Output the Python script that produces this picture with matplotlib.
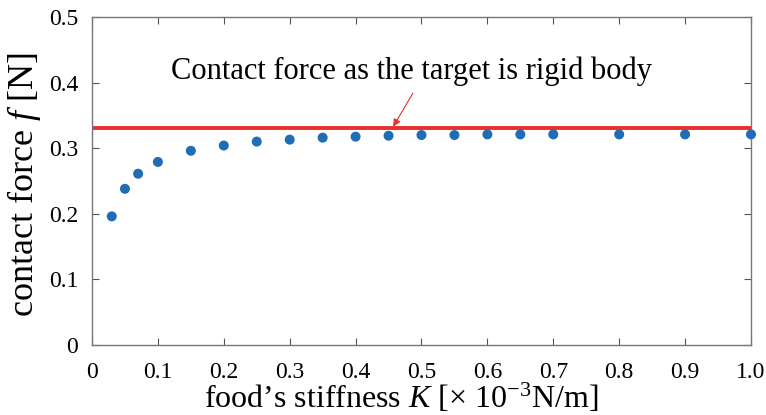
import matplotlib
matplotlib.use("Agg")
import matplotlib.pyplot as plt

stiffness = [0.03, 0.05, 0.07, 0.1, 0.15, 0.2, 0.25, 0.3, 0.35, 0.4, 0.45,
             0.5, 0.55, 0.6, 0.65, 0.7, 0.8, 0.9, 1.0]
force = [0.196, 0.238, 0.261, 0.279, 0.296, 0.304, 0.310, 0.313, 0.316, 0.3175,
         0.319, 0.320, 0.320, 0.321, 0.321, 0.321, 0.321, 0.321, 0.321]
rigid_force = 0.331
xticks = [0, 0.1, 0.2, 0.3, 0.4, 0.5, 0.6, 0.7, 0.8, 0.9, 1.0]
xticklabels = ["0", "0.1", "0.2", "0.3", "0.4", "0.5", "0.6", "0.7", "0.8", "0.9", "1.0"]
yticks = [0, 0.1, 0.2, 0.3, 0.4, 0.5]
yticklabels = ["0", "0.1", "0.2", "0.3", "0.4", "0.5"]
note = "Contact force as the target is rigid body"

plt.rcParams['font.family'] = ['Liberation Serif', 'DejaVu Serif']
plt.rcParams['mathtext.fontset'] = 'custom'
plt.rcParams['mathtext.rm'] = 'Liberation Serif'
plt.rcParams['mathtext.it'] = 'Liberation Serif:italic'

fig = plt.figure(figsize=(7.66, 4.15), dpi=100)
ax = fig.add_axes([0.1201, 0.169, 0.8603, 0.7900])

ax.axhline(rigid_force, color='#e8302a', lw=2.8, zorder=2)
ax.scatter(stiffness, force, s=52, color='#1f6db5', zorder=3, edgecolors='none', clip_on=False)

ax.set_xlim(0, 1.0)
ax.set_ylim(0, 0.5)
ax.set_xticks(xticks)
ax.set_xticklabels(xticklabels)
ax.set_yticks(yticks)
ax.set_yticklabels(yticklabels)
ax.tick_params(direction='in', length=5, width=0.8, colors='#555555', labelcolor='black', labelsize=17,
               top=True, right=True)
ax.tick_params(axis='x', pad=12)
ax.tick_params(axis='y', pad=10)
for s in ax.spines.values():
    s.set_color('#777777')
    s.set_linewidth(1.0)

ax.set_xlabel(r"food’s stiffness $K$ [$\times$ 10$^{-3}$N/m]", fontsize=23)
ax.set_ylabel(r"contact force $f$ [N]", fontsize=26)
ax.xaxis.set_label_coords(0.469, -0.112)
ax.yaxis.set_label_coords(-0.074, 0.49)

ax.annotate("", xy=(0.456, rigid_force), xytext=(0.487, 0.384), textcoords='data',
            arrowprops=dict(arrowstyle='-|>', color='#e8302a', lw=0.8, mutation_scale=11,
                            shrinkA=0, shrinkB=1))
ax.text(0.485, 0.417, note, ha='center', va='center', fontsize=22)

fig.savefig("out.png", dpi=100)
